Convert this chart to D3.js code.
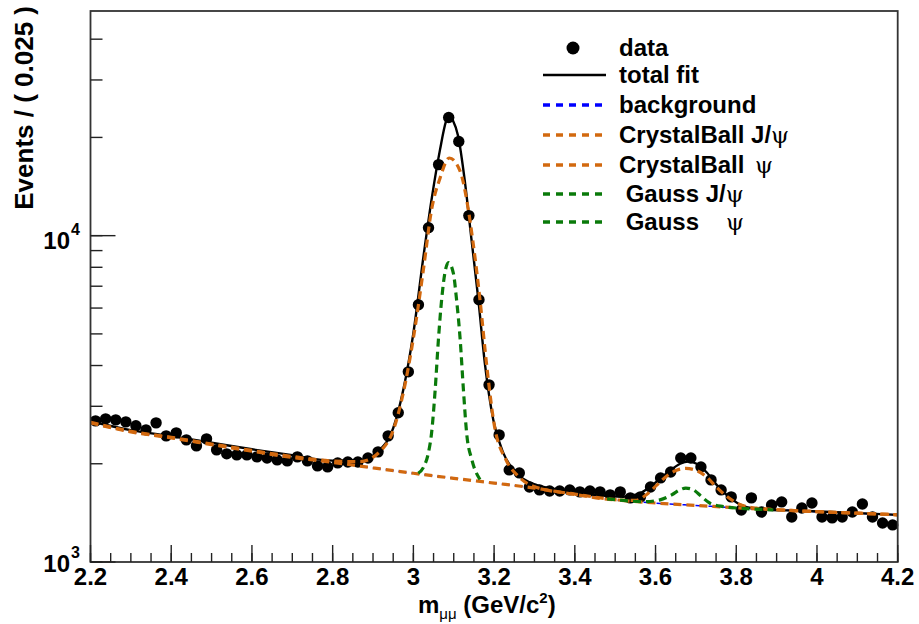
<!DOCTYPE html>
<html><head><meta charset="utf-8">
<script src="https://cdn.jsdelivr.net/npm/d3@7"></script>
<style>
body{margin:0;background:#fff;}
svg{display:block;font-family:"Liberation Sans",Arial,Helvetica,sans-serif;}
</style>
</head><body>
<svg id="c" width="919" height="624"></svg>
<script>
// ---------------- data ----------------
const binCenters = [2.2125,2.2375,2.2625,2.2875,2.3125,2.3375,2.3625,2.3875,2.4125,2.4375,
 2.4625,2.4875,2.5125,2.5375,2.5625,2.5875,2.6125,2.6375,2.6625,2.6875,
 2.7125,2.7375,2.7625,2.7875,2.8125,2.8375,2.8625,2.8875,2.9125,2.9375,
 2.9625,2.9875,3.0125,3.0375,3.0625,3.0875,3.1125,3.1375,3.1625,3.1875,
 3.2125,3.2375,3.2625,3.2875,3.3125,3.3375,3.3625,3.3875,3.4125,3.4375,
 3.4625,3.4875,3.5125,3.5375,3.5625,3.5875,3.6125,3.6375,3.6625,3.6875,
 3.7125,3.7375,3.7625,3.7875,3.8125,3.8375,3.8625,3.8875,3.9125,3.9375,
 3.9625,3.9875,4.0125,4.0375,4.0625,4.0875,4.1125,4.1375,4.1625,4.1875];
const counts = [2707,2746,2726,2688,2614,2541,2669,2435,2487,2367,
 2269,2384,2206,2145,2129,2129,2100,2084,2055,2041,
 2100,2041,1970,1956,2012,2026,2026,2084,2175,2435,
 2865,3826,6142,10580,16510,23010,19430,11520,6364,3490,
 2452,1915,1875,1698,1663,1651,1651,1663,1640,1651,
 1640,1606,1640,1572,1583,1698,1810,1888,2084,2084,
 1956,1785,1663,1583,1443,1572,1423,1496,1528,1374,
 1464,1517,1374,1365,1374,1423,1506,1374,1317,1299];

const bkgMass = [2.2,2.3,2.4,2.5,2.6,2.7,2.8,2.9,3.0,3.1,3.2,3.3,3.4,3.5,3.6,3.7,3.8,3.9,4.0,4.1,4.2];
const bkgVals = [2669,2505,2400,2290,2185,2090,2020,1943,1870,1805,1745,1685,1610,1550,1515,1490,1465,1445,1425,1410,1394];

const totalMass = [2.2,2.3,2.4,2.5,2.6,2.7,2.8,2.868,2.917,2.95,2.975,3.0,3.025,3.045,3.066,3.081,3.089,3.097,3.111,3.128,3.144,3.161,3.177,3.198,3.223,3.256,3.306,3.35,3.4,3.46,3.52,3.56,3.586,3.628,3.661,3.681,3.702,3.727,3.752,3.784,3.817,3.859,3.958,4.05,4.2];
const totalVals = [2700,2535,2430,2320,2215,2125,2045,2050,2206,2571,3371,5028,8641,12890,18350,22420,23500,22690,20160,14510,9721,6364,4070,2726,2155,1871,1720,1675,1640,1600,1585,1620,1700,1870,2000,2030,2000,1880,1720,1575,1485,1450,1435,1420,1394];

const cbJpsiMass = [2.2,2.3,2.4,2.5,2.6,2.7,2.8,2.868,2.917,2.95,2.975,3.0,3.025,3.045,3.066,3.089,3.116,3.132,3.148,3.165,3.182,3.2,3.23,3.26,3.3,3.4,3.5,3.6,3.7,3.8,3.9,4.0,4.1,4.2];
const cbJpsiVals = [2680,2515,2410,2300,2197,2105,2040,2030,2180,2530,3300,4850,7900,12000,15000,17300,15750,12890,9500,6364,3970,2650,2050,1830,1700,1615,1552,1516,1491,1466,1446,1426,1411,1395];

const cbPsiMass = [2.2,2.3,2.4,2.5,2.6,2.7,2.8,2.9,3.0,3.1,3.2,3.3,3.4,3.5,3.55,3.578,3.603,3.628,3.652,3.675,3.702,3.727,3.752,3.776,3.809,3.85,3.9,4.0,4.1,4.2];
const cbPsiVals = [2669,2505,2400,2290,2185,2090,2020,1943,1870,1805,1745,1685,1610,1550,1545,1610,1720,1835,1910,1935,1905,1820,1690,1590,1500,1462,1446,1426,1411,1395];

const gJpsiMass = [3.012,3.025,3.037,3.045,3.054,3.062,3.070,3.078,3.087,3.099,3.107,3.116,3.124,3.132,3.145,3.165];
const gJpsiVals = [1870,1950,2155,2480,3370,4794,6364,7680,8270,7680,6364,4794,3370,2480,2055,1790];

const gPsiMass = [3.48,3.53,3.57,3.611,3.64,3.66,3.675,3.694,3.714,3.735,3.768,3.809,3.85,3.892];
const gPsiVals = [1562,1540,1530,1550,1606,1663,1685,1663,1586,1514,1478,1461,1452,1443];

const xTickValues = [2.2,2.4,2.6,2.8,3.0,3.2,3.4,3.6,3.8,4.0,4.2];
const xTickLabels = ["2.2","2.4","2.6","2.8","3","3.2","3.4","3.6","3.8","4","4.2"];
const yTickValues = [1000,10000];
const yTickExponents = ["3","4"];

const legendLabels = ["data","total fit","background","CrystalBall J/","CrystalBall"," Gauss J/"," Gauss"];
const legendPsi = [false,false,false,true,true,true,true];

// ---------------- layout ----------------
const X0 = 90.5, X1 = 897.7, Y0 = 562, Y1 = 11;
const ORANGE = "#d2690f", GREEN = "#0a7a0a", BLUE = "#0000ff";
const svg = d3.select("#c");
const x = d3.scaleLinear().domain([2.2,4.2]).range([X0,X1]);
const y = d3.scaleLog().domain([1000,48800]).range([Y0,Y1]);

svg.append("defs").append("clipPath").attr("id","clip")
  .append("rect").attr("x",X0).attr("y",Y1).attr("width",X1-X0+3).attr("height",Y0-Y1);

const line = d3.line().x(d=>x(d[0])).y(d=>y(d[1])).curve(d3.curveMonotoneX);
const zip = (a,b)=>a.map((v,i)=>[v,b[i]]);

const plot = svg.append("g").attr("clip-path","url(#clip)");

// background (blue) under everything
plot.append("path").attr("d",line(zip(bkgMass,bkgVals)))
  .attr("fill","none").attr("stroke",BLUE).attr("stroke-width",1.5).attr("stroke-dasharray","8,5");

// data points
plot.append("g").selectAll("circle").data(zip(binCenters,counts)).join("circle")
  .attr("cx",d=>x(d[0])).attr("cy",d=>y(d[1])).attr("r",5.7).attr("fill","#000");

// total fit
plot.append("path").attr("d",line(zip(totalMass,totalVals)))
  .attr("fill","none").attr("stroke","#000").attr("stroke-width",2.4);

// crystal ball curves
plot.append("path").attr("d",line(zip(cbPsiMass,cbPsiVals)))
  .attr("fill","none").attr("stroke",ORANGE).attr("stroke-width",3.2).attr("stroke-dasharray","8,5");
plot.append("path").attr("d",line(zip(cbJpsiMass,cbJpsiVals)))
  .attr("fill","none").attr("stroke",ORANGE).attr("stroke-width",3.2).attr("stroke-dasharray","8,5");

// gauss curves
plot.append("path").attr("d",line(zip(gJpsiMass,gJpsiVals)))
  .attr("fill","none").attr("stroke",GREEN).attr("stroke-width",3.2).attr("stroke-dasharray","8,5");
plot.append("path").attr("d",line(zip(gPsiMass,gPsiVals)))
  .attr("fill","none").attr("stroke",GREEN).attr("stroke-width",3.2).attr("stroke-dasharray","8,5");

// ---------------- frame & axes ----------------
svg.append("rect").attr("x",X0).attr("y",Y1).attr("width",X1-X0).attr("height",Y0-Y1)
  .attr("fill","none").attr("stroke","#333").attr("stroke-width",1.8);

const axes = svg.append("g").attr("stroke","#222").attr("stroke-width",1.4);
axes.selectAll("line.xm").data(x.ticks(40)).join("line")
  .attr("x1",d=>x(d)).attr("x2",d=>x(d)).attr("y1",Y0).attr("y2",Y0-9);
axes.selectAll("line.xM").data(xTickValues).join("line")
  .attr("x1",d=>x(d)).attr("x2",d=>x(d)).attr("y1",Y0).attr("y2",Y0-17);
axes.selectAll("line.ym").data(y.ticks()).join("line")
  .attr("x1",X0).attr("x2",X0+12).attr("y1",d=>y(d)).attr("y2",d=>y(d));
axes.selectAll("line.yM").data(yTickValues).join("line")
  .attr("x1",X0).attr("x2",X0+25).attr("y1",d=>y(d)).attr("y2",d=>y(d));

// x tick labels
svg.append("g").selectAll("text").data(xTickValues).join("text")
  .attr("x",d=>x(d)).attr("y",585).attr("text-anchor","middle")
  .attr("font-size",24).attr("font-weight","bold").attr("fill","#000")
  .text((d,i)=>xTickLabels[i]);

// y tick labels 10^n
const yl = svg.append("g").attr("font-weight","bold").attr("fill","#000");
yTickValues.forEach((v,i)=>{
  const ty = y(v) - (i===0 ? 3 : 0);
  yl.append("text").attr("x",70).attr("y",ty+13).attr("text-anchor","end").attr("font-size",24).text("10");
  yl.append("text").attr("x",71).attr("y",ty-1).attr("text-anchor","start").attr("font-size",16).text(yTickExponents[i]);
});

// y axis title
svg.append("text").attr("transform","translate(33,6) rotate(-90)")
  .attr("text-anchor","end").attr("font-size",26).attr("font-weight","bold")
  .text("Events / ( 0.025 )");

// x axis title
const xt = svg.append("text").attr("x",418).attr("y",613).attr("font-size",24).attr("font-weight","bold");
xt.append("tspan").text("m");
xt.append("tspan").attr("font-size",15).attr("font-weight","normal").attr("dy",6).text("μμ");
xt.append("tspan").attr("dy",-6).text(" (GeV/c");
xt.append("tspan").attr("font-size",15).attr("dy",-10).text("2");
xt.append("tspan").attr("dy",10).text(")");

// ---------------- legend ----------------
const legRowY = [48,75,105,135,165,194,222];
const legStyles = [
  {type:"dot"},
  {type:"line",color:"#000",dash:null,w:2.4},
  {type:"line",color:BLUE,dash:"7,6",w:3.5},
  {type:"line",color:ORANGE,dash:"7,6",w:3.5},
  {type:"line",color:ORANGE,dash:"7,6",w:3.5},
  {type:"line",color:GREEN,dash:"7,6",w:3.5},
  {type:"line",color:GREEN,dash:"7,6",w:3.5}
];
const psiX = [null,null,null,null,755,null,726];
const leg = svg.append("g");
legendLabels.forEach((lab,i)=>{
  const yy = legRowY[i], st = legStyles[i];
  if(st.type==="dot"){
    leg.append("circle").attr("cx",573).attr("cy",yy).attr("r",6.5).attr("fill","#000");
  } else {
    const l = leg.append("line").attr("x1",543).attr("x2",606).attr("y1",yy).attr("y2",yy)
      .attr("stroke",st.color).attr("stroke-width",st.w);
    if(st.dash) l.attr("stroke-dasharray",st.dash);
  }
  const t = leg.append("text").attr("x",619).attr("y",yy+8).attr("font-size",24)
    .attr("font-weight","bold").attr("xml:space","preserve").style("white-space","pre");
  t.append("tspan").text(lab);
  if(legendPsi[i]){
    const p = t.append("tspan").attr("font-family","'DejaVu Serif','Liberation Serif',serif")
      .attr("font-weight","normal").attr("font-size",23).text("ψ");
    if(psiX[i]!==null) p.attr("x",psiX[i]);
  }
});
</script>
</body></html>
